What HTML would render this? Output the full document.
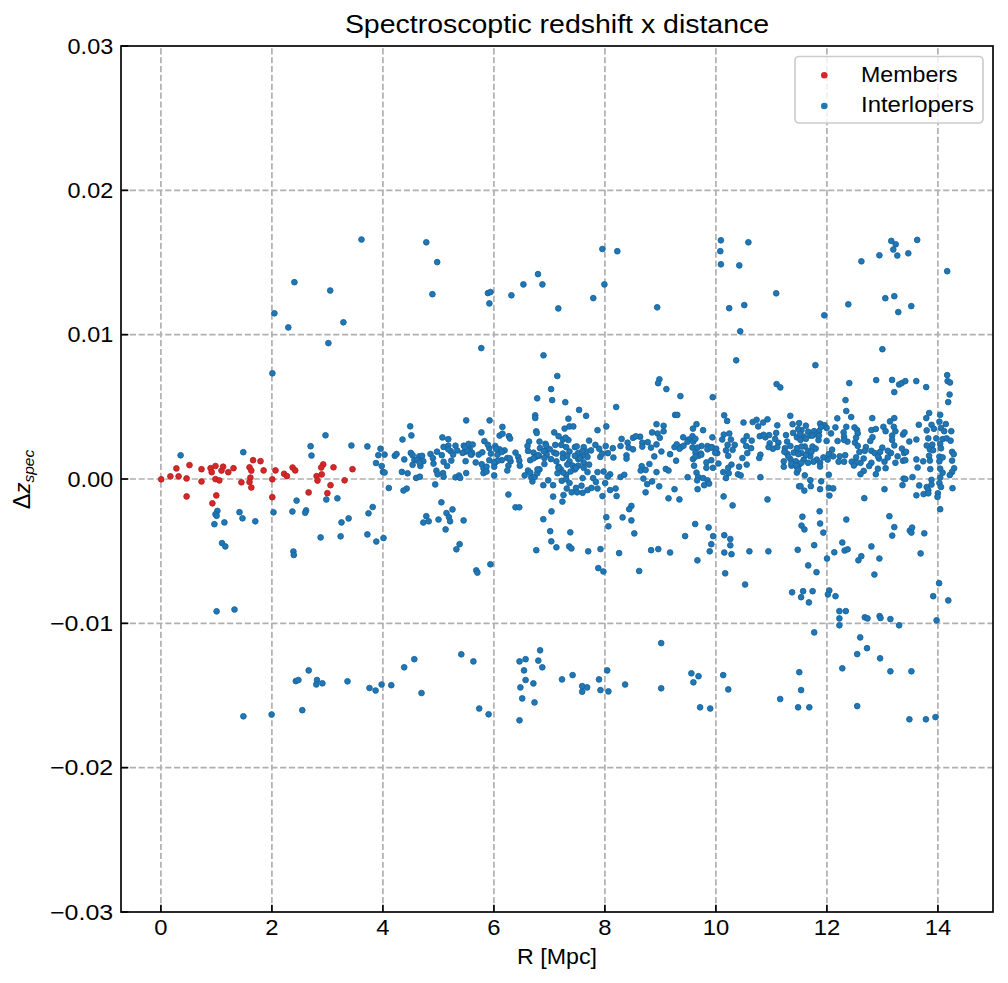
<!DOCTYPE html><html><head><meta charset="utf-8"><style>html,body{margin:0;padding:0;background:#fff;}svg{display:block;}text{font-family:"Liberation Sans",sans-serif;fill:#000;}</style></head><body><svg width="1008" height="983" viewBox="0 0 1008 983"><rect x="0" y="0" width="1008" height="983" fill="#fff"/><g stroke="#b0b0b0" stroke-width="1.7" stroke-dasharray="6.17 2.67"><line x1="160.90" y1="912" x2="160.90" y2="46"/><line x1="271.90" y1="912" x2="271.90" y2="46"/><line x1="382.90" y1="912" x2="382.90" y2="46"/><line x1="493.90" y1="912" x2="493.90" y2="46"/><line x1="604.90" y1="912" x2="604.90" y2="46"/><line x1="715.90" y1="912" x2="715.90" y2="46"/><line x1="826.90" y1="912" x2="826.90" y2="46"/><line x1="937.90" y1="912" x2="937.90" y2="46"/><line x1="121" y1="767.66" x2="993" y2="767.66"/><line x1="121" y1="623.33" x2="993" y2="623.33"/><line x1="121" y1="479.00" x2="993" y2="479.00"/><line x1="121" y1="334.67" x2="993" y2="334.67"/><line x1="121" y1="190.34" x2="993" y2="190.34"/></g><g fill="#1f77b4" stroke="#1a64a0" stroke-width="0.9"><circle cx="180.6" cy="455.3" r="2.85"/><circle cx="243.3" cy="452.2" r="2.85"/><circle cx="217.4" cy="510.9" r="2.85"/><circle cx="215.5" cy="514.2" r="2.85"/><circle cx="216.6" cy="515.8" r="2.85"/><circle cx="214.4" cy="524.2" r="2.85"/><circle cx="224.4" cy="522.4" r="2.85"/><circle cx="239.5" cy="512.2" r="2.85"/><circle cx="242.5" cy="518.3" r="2.85"/><circle cx="255.3" cy="521.3" r="2.85"/><circle cx="222.0" cy="543.1" r="2.85"/><circle cx="225.3" cy="546.4" r="2.85"/><circle cx="361.5" cy="239.5" r="2.85"/><circle cx="294.4" cy="282.2" r="2.85"/><circle cx="330.2" cy="290.5" r="2.85"/><circle cx="274.4" cy="313.3" r="2.85"/><circle cx="288.3" cy="327.4" r="2.85"/><circle cx="343.4" cy="322.3" r="2.85"/><circle cx="328.4" cy="343.1" r="2.85"/><circle cx="272.4" cy="373.3" r="2.85"/><circle cx="325.5" cy="435.3" r="2.85"/><circle cx="310.6" cy="446.2" r="2.85"/><circle cx="311.5" cy="455.5" r="2.85"/><circle cx="351.4" cy="445.5" r="2.85"/><circle cx="367.4" cy="446.4" r="2.85"/><circle cx="296.6" cy="500.6" r="2.85"/><circle cx="326.3" cy="499.5" r="2.85"/><circle cx="337.4" cy="498.3" r="2.85"/><circle cx="273.5" cy="512.3" r="2.85"/><circle cx="292.4" cy="511.5" r="2.85"/><circle cx="306.1" cy="510.4" r="2.85"/><circle cx="305.2" cy="512.7" r="2.85"/><circle cx="341.5" cy="522.4" r="2.85"/><circle cx="348.6" cy="518.4" r="2.85"/><circle cx="368.5" cy="513.3" r="2.85"/><circle cx="320.6" cy="537.4" r="2.85"/><circle cx="340.6" cy="536.3" r="2.85"/><circle cx="367.4" cy="534.4" r="2.85"/><circle cx="293.4" cy="551.5" r="2.85"/><circle cx="293.8" cy="555.0" r="2.85"/><circle cx="216.6" cy="611.3" r="2.85"/><circle cx="234.5" cy="609.5" r="2.85"/><circle cx="308.7" cy="670.4" r="2.85"/><circle cx="295.8" cy="681.1" r="2.85"/><circle cx="298.4" cy="680.0" r="2.85"/><circle cx="317.0" cy="680.0" r="2.85"/><circle cx="316.3" cy="684.4" r="2.85"/><circle cx="322.4" cy="683.3" r="2.85"/><circle cx="347.5" cy="681.3" r="2.85"/><circle cx="243.4" cy="716.3" r="2.85"/><circle cx="271.6" cy="714.5" r="2.85"/><circle cx="302.3" cy="710.2" r="2.85"/><circle cx="426.3" cy="242.3" r="2.85"/><circle cx="437.2" cy="262.1" r="2.85"/><circle cx="432.4" cy="294.2" r="2.85"/><circle cx="487.9" cy="293.1" r="2.85"/><circle cx="490.5" cy="292.0" r="2.85"/><circle cx="489.4" cy="303.4" r="2.85"/><circle cx="511.4" cy="295.3" r="2.85"/><circle cx="523.4" cy="284.4" r="2.85"/><circle cx="538.0" cy="274.1" r="2.85"/><circle cx="542.4" cy="284.4" r="2.85"/><circle cx="558.3" cy="308.4" r="2.85"/><circle cx="481.3" cy="348.1" r="2.85"/><circle cx="543.5" cy="355.3" r="2.85"/><circle cx="557.3" cy="376.0" r="2.85"/><circle cx="551.1" cy="389.1" r="2.85"/><circle cx="537.2" cy="398.3" r="2.85"/><circle cx="552.2" cy="400.1" r="2.85"/><circle cx="565.3" cy="402.2" r="2.85"/><circle cx="579.1" cy="409.9" r="2.85"/><circle cx="586.1" cy="415.8" r="2.85"/><circle cx="535.2" cy="415.3" r="2.85"/><circle cx="410.2" cy="426.3" r="2.85"/><circle cx="411.4" cy="435.4" r="2.85"/><circle cx="402.5" cy="439.5" r="2.85"/><circle cx="466.2" cy="420.4" r="2.85"/><circle cx="481.4" cy="432.4" r="2.85"/><circle cx="484.4" cy="441.2" r="2.85"/><circle cx="380.5" cy="448.7" r="2.85"/><circle cx="378.3" cy="455.2" r="2.85"/><circle cx="384.6" cy="454.6" r="2.85"/><circle cx="394.8" cy="455.8" r="2.85"/><circle cx="396.5" cy="454.0" r="2.85"/><circle cx="404.3" cy="459.4" r="2.85"/><circle cx="376.0" cy="463.0" r="2.85"/><circle cx="381.7" cy="466.0" r="2.85"/><circle cx="382.9" cy="471.9" r="2.85"/><circle cx="384.6" cy="472.5" r="2.85"/><circle cx="401.9" cy="471.9" r="2.85"/><circle cx="407.6" cy="473.3" r="2.85"/><circle cx="410.8" cy="452.9" r="2.85"/><circle cx="412.6" cy="455.2" r="2.85"/><circle cx="414.4" cy="460.0" r="2.85"/><circle cx="412.6" cy="464.8" r="2.85"/><circle cx="419.2" cy="456.4" r="2.85"/><circle cx="422.1" cy="455.8" r="2.85"/><circle cx="423.3" cy="461.2" r="2.85"/><circle cx="420.4" cy="466.0" r="2.85"/><circle cx="417.4" cy="460.0" r="2.85"/><circle cx="416.2" cy="477.9" r="2.85"/><circle cx="419.8" cy="476.7" r="2.85"/><circle cx="435.2" cy="484.4" r="2.85"/><circle cx="388.8" cy="488.0" r="2.85"/><circle cx="406.7" cy="488.6" r="2.85"/><circle cx="430.5" cy="454.0" r="2.85"/><circle cx="432.9" cy="458.2" r="2.85"/><circle cx="433.5" cy="463.6" r="2.85"/><circle cx="437.0" cy="451.7" r="2.85"/><circle cx="441.8" cy="455.2" r="2.85"/><circle cx="436.4" cy="470.7" r="2.85"/><circle cx="437.6" cy="474.3" r="2.85"/><circle cx="443.0" cy="473.1" r="2.85"/><circle cx="443.6" cy="476.7" r="2.85"/><circle cx="442.4" cy="437.4" r="2.85"/><circle cx="448.3" cy="439.2" r="2.85"/><circle cx="443.6" cy="446.9" r="2.85"/><circle cx="448.3" cy="445.7" r="2.85"/><circle cx="450.7" cy="451.1" r="2.85"/><circle cx="455.5" cy="445.7" r="2.85"/><circle cx="457.3" cy="450.5" r="2.85"/><circle cx="453.1" cy="454.6" r="2.85"/><circle cx="451.3" cy="460.6" r="2.85"/><circle cx="443.6" cy="461.8" r="2.85"/><circle cx="447.1" cy="466.0" r="2.85"/><circle cx="463.8" cy="445.7" r="2.85"/><circle cx="468.6" cy="443.9" r="2.85"/><circle cx="472.7" cy="444.5" r="2.85"/><circle cx="465.0" cy="451.7" r="2.85"/><circle cx="469.8" cy="449.3" r="2.85"/><circle cx="471.5" cy="454.6" r="2.85"/><circle cx="465.6" cy="461.2" r="2.85"/><circle cx="455.5" cy="477.3" r="2.85"/><circle cx="459.0" cy="475.5" r="2.85"/><circle cx="460.2" cy="477.9" r="2.85"/><circle cx="466.2" cy="473.1" r="2.85"/><circle cx="478.7" cy="454.6" r="2.85"/><circle cx="482.3" cy="452.3" r="2.85"/><circle cx="475.7" cy="462.4" r="2.85"/><circle cx="481.7" cy="464.2" r="2.85"/><circle cx="483.5" cy="468.3" r="2.85"/><circle cx="483.5" cy="473.1" r="2.85"/><circle cx="468.6" cy="450.5" r="2.85"/><circle cx="472.1" cy="452.9" r="2.85"/><circle cx="462.6" cy="452.9" r="2.85"/><circle cx="448.3" cy="449.3" r="2.85"/><circle cx="403.5" cy="490.5" r="2.85"/><circle cx="372.7" cy="507.0" r="2.85"/><circle cx="376.3" cy="541.5" r="2.85"/><circle cx="383.5" cy="538.0" r="2.85"/><circle cx="441.4" cy="502.3" r="2.85"/><circle cx="426.3" cy="516.2" r="2.85"/><circle cx="423.3" cy="522.5" r="2.85"/><circle cx="428.7" cy="521.3" r="2.85"/><circle cx="438.5" cy="519.5" r="2.85"/><circle cx="452.5" cy="509.4" r="2.85"/><circle cx="446.5" cy="513.0" r="2.85"/><circle cx="448.9" cy="517.1" r="2.85"/><circle cx="450.1" cy="521.3" r="2.85"/><circle cx="463.6" cy="520.4" r="2.85"/><circle cx="445.6" cy="529.4" r="2.85"/><circle cx="459.6" cy="544.2" r="2.85"/><circle cx="456.4" cy="549.3" r="2.85"/><circle cx="489.6" cy="420.4" r="2.85"/><circle cx="502.4" cy="426.9" r="2.85"/><circle cx="535.3" cy="418.0" r="2.85"/><circle cx="536.2" cy="431.3" r="2.85"/><circle cx="568.4" cy="418.7" r="2.85"/><circle cx="564.6" cy="428.6" r="2.85"/><circle cx="569.5" cy="426.4" r="2.85"/><circle cx="573.3" cy="426.4" r="2.85"/><circle cx="554.2" cy="432.4" r="2.85"/><circle cx="499.6" cy="435.6" r="2.85"/><circle cx="508.9" cy="436.2" r="2.85"/><circle cx="589.1" cy="440.6" r="2.85"/><circle cx="489.3" cy="448.2" r="2.85"/><circle cx="495.3" cy="446.0" r="2.85"/><circle cx="499.6" cy="449.3" r="2.85"/><circle cx="504.6" cy="450.4" r="2.85"/><circle cx="490.9" cy="453.6" r="2.85"/><circle cx="497.5" cy="454.7" r="2.85"/><circle cx="515.5" cy="452.6" r="2.85"/><circle cx="518.2" cy="456.9" r="2.85"/><circle cx="529.1" cy="441.6" r="2.85"/><circle cx="527.5" cy="446.0" r="2.85"/><circle cx="528.0" cy="450.9" r="2.85"/><circle cx="533.5" cy="452.6" r="2.85"/><circle cx="539.5" cy="441.6" r="2.85"/><circle cx="545.5" cy="443.8" r="2.85"/><circle cx="540.0" cy="448.2" r="2.85"/><circle cx="544.9" cy="450.9" r="2.85"/><circle cx="549.8" cy="449.3" r="2.85"/><circle cx="555.3" cy="444.9" r="2.85"/><circle cx="558.6" cy="436.2" r="2.85"/><circle cx="562.9" cy="439.5" r="2.85"/><circle cx="568.4" cy="440.0" r="2.85"/><circle cx="561.3" cy="444.9" r="2.85"/><circle cx="566.2" cy="447.1" r="2.85"/><circle cx="574.9" cy="447.1" r="2.85"/><circle cx="583.7" cy="447.1" r="2.85"/><circle cx="554.2" cy="452.6" r="2.85"/><circle cx="562.9" cy="453.6" r="2.85"/><circle cx="569.5" cy="451.5" r="2.85"/><circle cx="578.2" cy="453.1" r="2.85"/><circle cx="586.4" cy="451.5" r="2.85"/><circle cx="538.9" cy="455.8" r="2.85"/><circle cx="546.6" cy="454.7" r="2.85"/><circle cx="489.3" cy="460.2" r="2.85"/><circle cx="495.3" cy="462.4" r="2.85"/><circle cx="501.8" cy="460.2" r="2.85"/><circle cx="507.3" cy="458.0" r="2.85"/><circle cx="510.6" cy="461.3" r="2.85"/><circle cx="508.4" cy="465.7" r="2.85"/><circle cx="519.3" cy="460.7" r="2.85"/><circle cx="519.8" cy="465.7" r="2.85"/><circle cx="530.2" cy="460.2" r="2.85"/><circle cx="535.7" cy="456.9" r="2.85"/><circle cx="544.4" cy="464.0" r="2.85"/><circle cx="544.4" cy="458.0" r="2.85"/><circle cx="558.6" cy="466.7" r="2.85"/><circle cx="562.9" cy="458.0" r="2.85"/><circle cx="569.5" cy="461.3" r="2.85"/><circle cx="572.8" cy="465.7" r="2.85"/><circle cx="578.2" cy="459.1" r="2.85"/><circle cx="583.7" cy="462.4" r="2.85"/><circle cx="587.5" cy="456.9" r="2.85"/><circle cx="589.1" cy="464.6" r="2.85"/><circle cx="494.2" cy="466.7" r="2.85"/><circle cx="486.5" cy="466.7" r="2.85"/><circle cx="556.4" cy="453.6" r="2.85"/><circle cx="567.3" cy="455.8" r="2.85"/><circle cx="574.9" cy="455.8" r="2.85"/><circle cx="582.6" cy="455.8" r="2.85"/><circle cx="578.2" cy="465.7" r="2.85"/><circle cx="567.3" cy="464.6" r="2.85"/><circle cx="550.9" cy="459.1" r="2.85"/><circle cx="556.4" cy="461.3" r="2.85"/><circle cx="583.7" cy="467.8" r="2.85"/><circle cx="574.9" cy="467.8" r="2.85"/><circle cx="486.5" cy="471.5" r="2.85"/><circle cx="494.2" cy="475.4" r="2.85"/><circle cx="507.3" cy="470.5" r="2.85"/><circle cx="524.7" cy="475.4" r="2.85"/><circle cx="528.0" cy="470.5" r="2.85"/><circle cx="532.4" cy="481.4" r="2.85"/><circle cx="531.3" cy="477.0" r="2.85"/><circle cx="534.6" cy="477.0" r="2.85"/><circle cx="537.3" cy="473.2" r="2.85"/><circle cx="539.5" cy="469.4" r="2.85"/><circle cx="543.3" cy="485.2" r="2.85"/><circle cx="548.2" cy="480.3" r="2.85"/><circle cx="553.1" cy="485.2" r="2.85"/><circle cx="557.5" cy="473.2" r="2.85"/><circle cx="560.8" cy="469.4" r="2.85"/><circle cx="566.2" cy="474.8" r="2.85"/><circle cx="570.6" cy="471.5" r="2.85"/><circle cx="574.9" cy="469.4" r="2.85"/><circle cx="561.8" cy="480.8" r="2.85"/><circle cx="566.2" cy="479.2" r="2.85"/><circle cx="569.5" cy="483.0" r="2.85"/><circle cx="582.6" cy="478.1" r="2.85"/><circle cx="587.5" cy="472.1" r="2.85"/><circle cx="566.8" cy="488.5" r="2.85"/><circle cx="571.7" cy="492.3" r="2.85"/><circle cx="576.0" cy="487.9" r="2.85"/><circle cx="577.1" cy="492.3" r="2.85"/><circle cx="581.5" cy="485.7" r="2.85"/><circle cx="582.6" cy="492.8" r="2.85"/><circle cx="587.5" cy="490.1" r="2.85"/><circle cx="563.5" cy="495.0" r="2.85"/><circle cx="562.4" cy="501.6" r="2.85"/><circle cx="553.1" cy="496.6" r="2.85"/><circle cx="508.4" cy="494.5" r="2.85"/><circle cx="515.5" cy="507.3" r="2.85"/><circle cx="519.3" cy="507.3" r="2.85"/><circle cx="551.5" cy="511.4" r="2.85"/><circle cx="543.3" cy="519.2" r="2.85"/><circle cx="476.3" cy="570.4" r="2.85"/><circle cx="477.4" cy="572.6" r="2.85"/><circle cx="490.4" cy="564.3" r="2.85"/><circle cx="550.2" cy="531.2" r="2.85"/><circle cx="570.3" cy="532.3" r="2.85"/><circle cx="551.3" cy="541.3" r="2.85"/><circle cx="556.4" cy="547.3" r="2.85"/><circle cx="569.2" cy="546.4" r="2.85"/><circle cx="571.4" cy="548.4" r="2.85"/><circle cx="536.3" cy="550.2" r="2.85"/><circle cx="588.2" cy="551.3" r="2.85"/><circle cx="369.5" cy="688.0" r="2.85"/><circle cx="375.6" cy="690.5" r="2.85"/><circle cx="381.6" cy="684.5" r="2.85"/><circle cx="391.3" cy="685.2" r="2.85"/><circle cx="404.2" cy="667.3" r="2.85"/><circle cx="414.3" cy="659.2" r="2.85"/><circle cx="421.5" cy="693.0" r="2.85"/><circle cx="461.3" cy="654.3" r="2.85"/><circle cx="473.4" cy="661.4" r="2.85"/><circle cx="479.2" cy="708.5" r="2.85"/><circle cx="488.6" cy="714.3" r="2.85"/><circle cx="519.5" cy="661.4" r="2.85"/><circle cx="525.6" cy="659.2" r="2.85"/><circle cx="540.1" cy="650.3" r="2.85"/><circle cx="538.3" cy="660.6" r="2.85"/><circle cx="542.3" cy="667.3" r="2.85"/><circle cx="524.0" cy="670.4" r="2.85"/><circle cx="525.6" cy="680.0" r="2.85"/><circle cx="520.4" cy="687.4" r="2.85"/><circle cx="533.4" cy="683.4" r="2.85"/><circle cx="522.2" cy="698.4" r="2.85"/><circle cx="534.5" cy="702.4" r="2.85"/><circle cx="519.5" cy="720.3" r="2.85"/><circle cx="562.0" cy="679.4" r="2.85"/><circle cx="572.6" cy="675.1" r="2.85"/><circle cx="582.2" cy="686.1" r="2.85"/><circle cx="587.1" cy="687.4" r="2.85"/><circle cx="582.2" cy="691.7" r="2.85"/><circle cx="602.4" cy="249.0" r="2.85"/><circle cx="617.3" cy="251.2" r="2.85"/><circle cx="604.4" cy="284.4" r="2.85"/><circle cx="593.3" cy="298.1" r="2.85"/><circle cx="657.2" cy="307.3" r="2.85"/><circle cx="720.9" cy="240.3" r="2.85"/><circle cx="748.4" cy="242.3" r="2.85"/><circle cx="720.3" cy="251.2" r="2.85"/><circle cx="720.9" cy="264.3" r="2.85"/><circle cx="739.3" cy="265.4" r="2.85"/><circle cx="776.2" cy="293.3" r="2.85"/><circle cx="744.3" cy="305.1" r="2.85"/><circle cx="729.2" cy="308.2" r="2.85"/><circle cx="740.2" cy="331.3" r="2.85"/><circle cx="736.2" cy="360.3" r="2.85"/><circle cx="659.4" cy="379.3" r="2.85"/><circle cx="658.1" cy="383.2" r="2.85"/><circle cx="666.4" cy="389.1" r="2.85"/><circle cx="680.4" cy="396.1" r="2.85"/><circle cx="616.2" cy="407.0" r="2.85"/><circle cx="712.7" cy="397.2" r="2.85"/><circle cx="776.6" cy="384.1" r="2.85"/><circle cx="780.3" cy="387.4" r="2.85"/><circle cx="675.1" cy="414.9" r="2.85"/><circle cx="677.3" cy="414.9" r="2.85"/><circle cx="724.2" cy="415.3" r="2.85"/><circle cx="790.3" cy="415.8" r="2.85"/><circle cx="597.5" cy="430.2" r="2.85"/><circle cx="606.3" cy="426.4" r="2.85"/><circle cx="595.4" cy="444.9" r="2.85"/><circle cx="591.0" cy="450.4" r="2.85"/><circle cx="599.2" cy="448.7" r="2.85"/><circle cx="600.3" cy="456.9" r="2.85"/><circle cx="605.7" cy="446.0" r="2.85"/><circle cx="607.9" cy="453.1" r="2.85"/><circle cx="612.8" cy="448.2" r="2.85"/><circle cx="613.4" cy="457.5" r="2.85"/><circle cx="621.6" cy="438.9" r="2.85"/><circle cx="620.5" cy="446.0" r="2.85"/><circle cx="627.6" cy="442.7" r="2.85"/><circle cx="628.6" cy="447.6" r="2.85"/><circle cx="633.0" cy="449.3" r="2.85"/><circle cx="626.5" cy="455.3" r="2.85"/><circle cx="626.5" cy="458.6" r="2.85"/><circle cx="633.0" cy="437.8" r="2.85"/><circle cx="640.1" cy="436.7" r="2.85"/><circle cx="642.3" cy="442.7" r="2.85"/><circle cx="642.3" cy="446.6" r="2.85"/><circle cx="647.7" cy="442.2" r="2.85"/><circle cx="651.0" cy="447.6" r="2.85"/><circle cx="656.5" cy="444.4" r="2.85"/><circle cx="656.5" cy="424.2" r="2.85"/><circle cx="663.6" cy="425.8" r="2.85"/><circle cx="652.1" cy="432.4" r="2.85"/><circle cx="657.6" cy="433.5" r="2.85"/><circle cx="663.6" cy="431.3" r="2.85"/><circle cx="659.8" cy="437.8" r="2.85"/><circle cx="661.4" cy="451.5" r="2.85"/><circle cx="654.3" cy="456.4" r="2.85"/><circle cx="649.4" cy="464.0" r="2.85"/><circle cx="641.7" cy="466.2" r="2.85"/><circle cx="665.8" cy="468.9" r="2.85"/><circle cx="670.1" cy="454.2" r="2.85"/><circle cx="676.1" cy="460.7" r="2.85"/><circle cx="674.5" cy="447.1" r="2.85"/><circle cx="676.7" cy="444.4" r="2.85"/><circle cx="681.0" cy="447.1" r="2.85"/><circle cx="683.2" cy="437.3" r="2.85"/><circle cx="688.7" cy="439.5" r="2.85"/><circle cx="692.5" cy="436.2" r="2.85"/><circle cx="693.0" cy="428.6" r="2.85"/><circle cx="692.5" cy="447.6" r="2.85"/><circle cx="693.0" cy="459.1" r="2.85"/><circle cx="694.1" cy="465.7" r="2.85"/><circle cx="597.5" cy="472.1" r="2.85"/><circle cx="603.6" cy="471.5" r="2.85"/><circle cx="610.1" cy="474.3" r="2.85"/><circle cx="607.9" cy="476.5" r="2.85"/><circle cx="593.2" cy="478.1" r="2.85"/><circle cx="595.9" cy="481.9" r="2.85"/><circle cx="605.2" cy="483.0" r="2.85"/><circle cx="591.5" cy="487.9" r="2.85"/><circle cx="597.5" cy="488.5" r="2.85"/><circle cx="610.1" cy="490.1" r="2.85"/><circle cx="615.6" cy="488.5" r="2.85"/><circle cx="602.5" cy="496.1" r="2.85"/><circle cx="616.6" cy="496.1" r="2.85"/><circle cx="620.5" cy="477.0" r="2.85"/><circle cx="624.3" cy="474.8" r="2.85"/><circle cx="640.7" cy="470.5" r="2.85"/><circle cx="645.6" cy="469.9" r="2.85"/><circle cx="656.5" cy="472.1" r="2.85"/><circle cx="668.5" cy="470.5" r="2.85"/><circle cx="643.4" cy="478.6" r="2.85"/><circle cx="647.2" cy="484.1" r="2.85"/><circle cx="652.1" cy="481.4" r="2.85"/><circle cx="645.6" cy="492.3" r="2.85"/><circle cx="659.2" cy="486.3" r="2.85"/><circle cx="674.5" cy="489.2" r="2.85"/><circle cx="668.5" cy="498.3" r="2.85"/><circle cx="679.4" cy="499.4" r="2.85"/><circle cx="687.6" cy="477.2" r="2.85"/><circle cx="631.4" cy="505.9" r="2.85"/><circle cx="629.2" cy="509.2" r="2.85"/><circle cx="606.3" cy="517.2" r="2.85"/><circle cx="622.6" cy="517.4" r="2.85"/><circle cx="631.4" cy="520.4" r="2.85"/><circle cx="696.5" cy="424.2" r="2.85"/><circle cx="693.3" cy="441.6" r="2.85"/><circle cx="695.5" cy="452.6" r="2.85"/><circle cx="700.9" cy="453.6" r="2.85"/><circle cx="703.1" cy="430.2" r="2.85"/><circle cx="712.4" cy="437.3" r="2.85"/><circle cx="701.5" cy="446.0" r="2.85"/><circle cx="707.5" cy="446.0" r="2.85"/><circle cx="711.8" cy="447.1" r="2.85"/><circle cx="707.5" cy="449.3" r="2.85"/><circle cx="716.2" cy="448.7" r="2.85"/><circle cx="717.3" cy="453.1" r="2.85"/><circle cx="698.7" cy="455.8" r="2.85"/><circle cx="706.4" cy="462.4" r="2.85"/><circle cx="711.3" cy="460.2" r="2.85"/><circle cx="718.4" cy="463.5" r="2.85"/><circle cx="706.4" cy="467.8" r="2.85"/><circle cx="712.9" cy="467.8" r="2.85"/><circle cx="727.1" cy="420.9" r="2.85"/><circle cx="723.8" cy="434.6" r="2.85"/><circle cx="729.3" cy="433.5" r="2.85"/><circle cx="722.2" cy="439.5" r="2.85"/><circle cx="730.9" cy="439.5" r="2.85"/><circle cx="727.6" cy="444.9" r="2.85"/><circle cx="734.7" cy="444.9" r="2.85"/><circle cx="732.6" cy="449.8" r="2.85"/><circle cx="726.0" cy="450.4" r="2.85"/><circle cx="728.2" cy="455.8" r="2.85"/><circle cx="731.5" cy="464.6" r="2.85"/><circle cx="728.2" cy="467.8" r="2.85"/><circle cx="739.1" cy="466.7" r="2.85"/><circle cx="742.4" cy="458.0" r="2.85"/><circle cx="746.7" cy="464.6" r="2.85"/><circle cx="747.3" cy="453.1" r="2.85"/><circle cx="743.5" cy="422.5" r="2.85"/><circle cx="746.7" cy="436.2" r="2.85"/><circle cx="743.5" cy="440.6" r="2.85"/><circle cx="751.7" cy="440.6" r="2.85"/><circle cx="746.2" cy="446.0" r="2.85"/><circle cx="751.1" cy="448.2" r="2.85"/><circle cx="752.7" cy="422.0" r="2.85"/><circle cx="756.6" cy="419.8" r="2.85"/><circle cx="758.2" cy="426.4" r="2.85"/><circle cx="763.1" cy="422.5" r="2.85"/><circle cx="767.5" cy="419.3" r="2.85"/><circle cx="759.8" cy="436.2" r="2.85"/><circle cx="765.3" cy="437.3" r="2.85"/><circle cx="769.1" cy="435.1" r="2.85"/><circle cx="760.4" cy="454.7" r="2.85"/><circle cx="759.3" cy="458.0" r="2.85"/><circle cx="777.3" cy="425.3" r="2.85"/><circle cx="776.2" cy="432.9" r="2.85"/><circle cx="775.1" cy="438.9" r="2.85"/><circle cx="769.7" cy="443.3" r="2.85"/><circle cx="778.4" cy="442.7" r="2.85"/><circle cx="768.6" cy="447.1" r="2.85"/><circle cx="772.9" cy="448.7" r="2.85"/><circle cx="777.3" cy="447.1" r="2.85"/><circle cx="792.6" cy="424.2" r="2.85"/><circle cx="799.1" cy="423.1" r="2.85"/><circle cx="786.0" cy="435.1" r="2.85"/><circle cx="793.1" cy="432.9" r="2.85"/><circle cx="796.9" cy="437.3" r="2.85"/><circle cx="787.1" cy="441.6" r="2.85"/><circle cx="784.9" cy="448.2" r="2.85"/><circle cx="790.4" cy="446.0" r="2.85"/><circle cx="796.9" cy="448.2" r="2.85"/><circle cx="787.1" cy="453.6" r="2.85"/><circle cx="793.7" cy="452.6" r="2.85"/><circle cx="799.1" cy="453.6" r="2.85"/><circle cx="783.8" cy="461.3" r="2.85"/><circle cx="790.4" cy="459.1" r="2.85"/><circle cx="795.8" cy="461.3" r="2.85"/><circle cx="783.8" cy="466.7" r="2.85"/><circle cx="791.5" cy="465.7" r="2.85"/><circle cx="799.1" cy="464.6" r="2.85"/><circle cx="696.5" cy="472.6" r="2.85"/><circle cx="698.2" cy="477.0" r="2.85"/><circle cx="703.1" cy="478.1" r="2.85"/><circle cx="697.1" cy="480.3" r="2.85"/><circle cx="707.5" cy="480.3" r="2.85"/><circle cx="704.2" cy="485.2" r="2.85"/><circle cx="709.1" cy="483.6" r="2.85"/><circle cx="697.6" cy="489.2" r="2.85"/><circle cx="723.3" cy="472.1" r="2.85"/><circle cx="728.7" cy="473.2" r="2.85"/><circle cx="726.0" cy="478.1" r="2.85"/><circle cx="738.0" cy="474.3" r="2.85"/><circle cx="740.7" cy="475.4" r="2.85"/><circle cx="760.4" cy="477.2" r="2.85"/><circle cx="796.9" cy="472.6" r="2.85"/><circle cx="799.1" cy="486.3" r="2.85"/><circle cx="723.6" cy="496.4" r="2.85"/><circle cx="732.6" cy="505.4" r="2.85"/><circle cx="767.5" cy="499.4" r="2.85"/><circle cx="608.4" cy="526.3" r="2.85"/><circle cx="634.3" cy="533.4" r="2.85"/><circle cx="600.5" cy="549.1" r="2.85"/><circle cx="619.1" cy="553.1" r="2.85"/><circle cx="598.3" cy="568.1" r="2.85"/><circle cx="603.4" cy="571.5" r="2.85"/><circle cx="639.2" cy="571.0" r="2.85"/><circle cx="651.1" cy="550.2" r="2.85"/><circle cx="658.3" cy="549.1" r="2.85"/><circle cx="670.1" cy="552.5" r="2.85"/><circle cx="685.1" cy="536.1" r="2.85"/><circle cx="695.2" cy="524.0" r="2.85"/><circle cx="708.6" cy="527.4" r="2.85"/><circle cx="713.1" cy="536.1" r="2.85"/><circle cx="711.3" cy="544.2" r="2.85"/><circle cx="709.7" cy="551.3" r="2.85"/><circle cx="697.4" cy="560.3" r="2.85"/><circle cx="724.3" cy="535.2" r="2.85"/><circle cx="730.3" cy="539.0" r="2.85"/><circle cx="730.3" cy="545.3" r="2.85"/><circle cx="724.3" cy="552.5" r="2.85"/><circle cx="731.5" cy="554.2" r="2.85"/><circle cx="749.4" cy="551.3" r="2.85"/><circle cx="768.4" cy="551.3" r="2.85"/><circle cx="725.2" cy="573.3" r="2.85"/><circle cx="745.1" cy="584.5" r="2.85"/><circle cx="801.5" cy="525.6" r="2.85"/><circle cx="804.4" cy="529.4" r="2.85"/><circle cx="797.7" cy="549.8" r="2.85"/><circle cx="808.2" cy="565.4" r="2.85"/><circle cx="792.1" cy="592.3" r="2.85"/><circle cx="803.1" cy="591.2" r="2.85"/><circle cx="801.1" cy="597.2" r="2.85"/><circle cx="808.9" cy="602.4" r="2.85"/><circle cx="661.2" cy="643.1" r="2.85"/><circle cx="607.2" cy="670.4" r="2.85"/><circle cx="599.0" cy="679.4" r="2.85"/><circle cx="600.5" cy="690.1" r="2.85"/><circle cx="608.4" cy="691.4" r="2.85"/><circle cx="625.1" cy="684.5" r="2.85"/><circle cx="661.2" cy="688.3" r="2.85"/><circle cx="691.4" cy="673.3" r="2.85"/><circle cx="698.5" cy="676.2" r="2.85"/><circle cx="693.4" cy="682.3" r="2.85"/><circle cx="700.1" cy="707.3" r="2.85"/><circle cx="710.2" cy="708.5" r="2.85"/><circle cx="723.2" cy="675.1" r="2.85"/><circle cx="728.3" cy="689.4" r="2.85"/><circle cx="799.3" cy="672.2" r="2.85"/><circle cx="801.1" cy="690.1" r="2.85"/><circle cx="780.2" cy="699.0" r="2.85"/><circle cx="798.1" cy="707.3" r="2.85"/><circle cx="809.3" cy="707.3" r="2.85"/><circle cx="891.3" cy="240.9" r="2.85"/><circle cx="895.7" cy="244.3" r="2.85"/><circle cx="893.3" cy="249.5" r="2.85"/><circle cx="897.3" cy="255.5" r="2.85"/><circle cx="879.4" cy="255.3" r="2.85"/><circle cx="861.4" cy="261.3" r="2.85"/><circle cx="908.3" cy="253.3" r="2.85"/><circle cx="917.2" cy="239.9" r="2.85"/><circle cx="947.2" cy="271.2" r="2.85"/><circle cx="848.3" cy="304.3" r="2.85"/><circle cx="824.3" cy="315.3" r="2.85"/><circle cx="885.3" cy="298.2" r="2.85"/><circle cx="894.3" cy="296.2" r="2.85"/><circle cx="898.3" cy="312.1" r="2.85"/><circle cx="911.3" cy="306.1" r="2.85"/><circle cx="882.4" cy="349.2" r="2.85"/><circle cx="815.4" cy="365.2" r="2.85"/><circle cx="849.3" cy="383.1" r="2.85"/><circle cx="876.2" cy="380.1" r="2.85"/><circle cx="892.1" cy="379.9" r="2.85"/><circle cx="899.1" cy="384.5" r="2.85"/><circle cx="901.7" cy="383.1" r="2.85"/><circle cx="905.3" cy="381.1" r="2.85"/><circle cx="916.3" cy="381.1" r="2.85"/><circle cx="926.2" cy="387.1" r="2.85"/><circle cx="894.3" cy="392.1" r="2.85"/><circle cx="947.2" cy="375.1" r="2.85"/><circle cx="947.6" cy="381.1" r="2.85"/><circle cx="950.0" cy="382.5" r="2.85"/><circle cx="949.6" cy="394.5" r="2.85"/><circle cx="948.2" cy="402.1" r="2.85"/><circle cx="845.5" cy="400.1" r="2.85"/><circle cx="846.3" cy="411.0" r="2.85"/><circle cx="929.2" cy="413.0" r="2.85"/><circle cx="940.2" cy="414.8" r="2.85"/><circle cx="851.2" cy="417.0" r="2.85"/><circle cx="837.3" cy="418.3" r="2.85"/><circle cx="872.3" cy="418.1" r="2.85"/><circle cx="894.3" cy="418.1" r="2.85"/><circle cx="890.0" cy="421.4" r="2.85"/><circle cx="805.9" cy="425.7" r="2.85"/><circle cx="820.1" cy="423.6" r="2.85"/><circle cx="824.5" cy="425.2" r="2.85"/><circle cx="826.6" cy="427.9" r="2.85"/><circle cx="801.5" cy="430.1" r="2.85"/><circle cx="808.1" cy="431.7" r="2.85"/><circle cx="814.1" cy="431.2" r="2.85"/><circle cx="819.0" cy="431.2" r="2.85"/><circle cx="803.7" cy="436.6" r="2.85"/><circle cx="810.3" cy="435.6" r="2.85"/><circle cx="816.8" cy="434.5" r="2.85"/><circle cx="800.5" cy="439.9" r="2.85"/><circle cx="805.9" cy="438.8" r="2.85"/><circle cx="835.4" cy="427.4" r="2.85"/><circle cx="831.0" cy="433.4" r="2.85"/><circle cx="818.5" cy="440.1" r="2.85"/><circle cx="826.6" cy="441.0" r="2.85"/><circle cx="837.6" cy="441.0" r="2.85"/><circle cx="846.3" cy="426.8" r="2.85"/><circle cx="843.6" cy="432.3" r="2.85"/><circle cx="844.1" cy="436.6" r="2.85"/><circle cx="847.4" cy="441.6" r="2.85"/><circle cx="854.5" cy="427.4" r="2.85"/><circle cx="857.2" cy="430.1" r="2.85"/><circle cx="857.7" cy="433.4" r="2.85"/><circle cx="855.0" cy="442.6" r="2.85"/><circle cx="857.7" cy="445.9" r="2.85"/><circle cx="859.4" cy="451.9" r="2.85"/><circle cx="856.1" cy="457.4" r="2.85"/><circle cx="871.4" cy="430.1" r="2.85"/><circle cx="875.8" cy="429.0" r="2.85"/><circle cx="872.5" cy="437.2" r="2.85"/><circle cx="870.3" cy="441.0" r="2.85"/><circle cx="865.9" cy="447.0" r="2.85"/><circle cx="871.4" cy="450.8" r="2.85"/><circle cx="874.7" cy="453.0" r="2.85"/><circle cx="863.7" cy="458.5" r="2.85"/><circle cx="883.4" cy="426.8" r="2.85"/><circle cx="885.6" cy="431.2" r="2.85"/><circle cx="893.8" cy="426.8" r="2.85"/><circle cx="895.4" cy="431.2" r="2.85"/><circle cx="892.1" cy="435.6" r="2.85"/><circle cx="892.1" cy="439.9" r="2.85"/><circle cx="894.3" cy="445.4" r="2.85"/><circle cx="903.0" cy="434.5" r="2.85"/><circle cx="882.3" cy="447.6" r="2.85"/><circle cx="880.1" cy="451.9" r="2.85"/><circle cx="891.0" cy="453.0" r="2.85"/><circle cx="887.8" cy="457.4" r="2.85"/><circle cx="879.0" cy="458.5" r="2.85"/><circle cx="904.1" cy="453.0" r="2.85"/><circle cx="903.0" cy="460.7" r="2.85"/><circle cx="804.8" cy="446.5" r="2.85"/><circle cx="812.5" cy="446.5" r="2.85"/><circle cx="815.7" cy="448.6" r="2.85"/><circle cx="801.5" cy="453.0" r="2.85"/><circle cx="808.1" cy="450.8" r="2.85"/><circle cx="810.3" cy="456.3" r="2.85"/><circle cx="803.7" cy="459.6" r="2.85"/><circle cx="816.8" cy="459.6" r="2.85"/><circle cx="832.1" cy="449.7" r="2.85"/><circle cx="828.8" cy="454.1" r="2.85"/><circle cx="827.7" cy="459.6" r="2.85"/><circle cx="820.1" cy="462.8" r="2.85"/><circle cx="839.7" cy="456.3" r="2.85"/><circle cx="845.2" cy="455.2" r="2.85"/><circle cx="838.6" cy="461.7" r="2.85"/><circle cx="851.7" cy="461.7" r="2.85"/><circle cx="808.1" cy="462.8" r="2.85"/><circle cx="860.5" cy="462.8" r="2.85"/><circle cx="871.4" cy="462.8" r="2.85"/><circle cx="884.5" cy="461.7" r="2.85"/><circle cx="895.4" cy="462.8" r="2.85"/><circle cx="800.0" cy="434.0" r="2.85"/><circle cx="812.5" cy="435.6" r="2.85"/><circle cx="821.2" cy="426.8" r="2.85"/><circle cx="801.5" cy="446.5" r="2.85"/><circle cx="798.3" cy="454.1" r="2.85"/><circle cx="811.4" cy="451.9" r="2.85"/><circle cx="805.9" cy="455.2" r="2.85"/><circle cx="813.6" cy="461.7" r="2.85"/><circle cx="801.5" cy="462.8" r="2.85"/><circle cx="823.4" cy="457.4" r="2.85"/><circle cx="833.2" cy="456.3" r="2.85"/><circle cx="844.1" cy="461.7" r="2.85"/><circle cx="856.1" cy="462.8" r="2.85"/><circle cx="864.8" cy="450.8" r="2.85"/><circle cx="877.9" cy="456.3" r="2.85"/><circle cx="887.8" cy="450.8" r="2.85"/><circle cx="897.6" cy="456.3" r="2.85"/><circle cx="901.9" cy="448.6" r="2.85"/><circle cx="856.1" cy="437.7" r="2.85"/><circle cx="844.1" cy="439.9" r="2.85"/><circle cx="798.3" cy="429.0" r="2.85"/><circle cx="819.0" cy="435.6" r="2.85"/><circle cx="797.2" cy="467.6" r="2.85"/><circle cx="820.1" cy="466.5" r="2.85"/><circle cx="804.8" cy="475.3" r="2.85"/><circle cx="810.3" cy="480.2" r="2.85"/><circle cx="810.8" cy="486.2" r="2.85"/><circle cx="800.5" cy="486.2" r="2.85"/><circle cx="804.3" cy="490.6" r="2.85"/><circle cx="821.2" cy="481.3" r="2.85"/><circle cx="820.1" cy="489.2" r="2.85"/><circle cx="828.8" cy="474.7" r="2.85"/><circle cx="828.8" cy="487.8" r="2.85"/><circle cx="833.2" cy="488.4" r="2.85"/><circle cx="829.4" cy="495.5" r="2.85"/><circle cx="853.9" cy="465.5" r="2.85"/><circle cx="869.2" cy="466.0" r="2.85"/><circle cx="863.7" cy="470.9" r="2.85"/><circle cx="860.5" cy="474.2" r="2.85"/><circle cx="877.9" cy="468.7" r="2.85"/><circle cx="875.8" cy="474.2" r="2.85"/><circle cx="885.6" cy="468.2" r="2.85"/><circle cx="903.6" cy="478.6" r="2.85"/><circle cx="902.5" cy="485.1" r="2.85"/><circle cx="884.5" cy="489.2" r="2.85"/><circle cx="864.3" cy="498.2" r="2.85"/><circle cx="819.6" cy="511.3" r="2.85"/><circle cx="802.4" cy="516.7" r="2.85"/><circle cx="846.3" cy="519.5" r="2.85"/><circle cx="889.4" cy="516.2" r="2.85"/><circle cx="820.1" cy="523.5" r="2.85"/><circle cx="823.3" cy="532.6" r="2.85"/><circle cx="814.2" cy="545.2" r="2.85"/><circle cx="827.0" cy="558.5" r="2.85"/><circle cx="834.3" cy="552.3" r="2.85"/><circle cx="842.3" cy="542.5" r="2.85"/><circle cx="844.6" cy="550.5" r="2.85"/><circle cx="847.6" cy="549.3" r="2.85"/><circle cx="816.5" cy="572.2" r="2.85"/><circle cx="858.4" cy="560.3" r="2.85"/><circle cx="861.3" cy="556.2" r="2.85"/><circle cx="871.4" cy="546.4" r="2.85"/><circle cx="879.4" cy="558.5" r="2.85"/><circle cx="874.4" cy="574.5" r="2.85"/><circle cx="894.3" cy="527.1" r="2.85"/><circle cx="892.2" cy="535.6" r="2.85"/><circle cx="909.8" cy="530.6" r="2.85"/><circle cx="912.1" cy="527.6" r="2.85"/><circle cx="911.4" cy="532.6" r="2.85"/><circle cx="924.3" cy="533.3" r="2.85"/><circle cx="920.6" cy="553.4" r="2.85"/><circle cx="812.6" cy="591.2" r="2.85"/><circle cx="829.3" cy="590.5" r="2.85"/><circle cx="827.9" cy="594.4" r="2.85"/><circle cx="835.5" cy="596.2" r="2.85"/><circle cx="839.4" cy="611.1" r="2.85"/><circle cx="845.8" cy="611.1" r="2.85"/><circle cx="839.4" cy="618.4" r="2.85"/><circle cx="839.4" cy="625.3" r="2.85"/><circle cx="864.8" cy="617.3" r="2.85"/><circle cx="867.5" cy="618.4" r="2.85"/><circle cx="879.6" cy="616.1" r="2.85"/><circle cx="880.5" cy="618.0" r="2.85"/><circle cx="890.4" cy="619.1" r="2.85"/><circle cx="899.1" cy="625.3" r="2.85"/><circle cx="939.1" cy="583.2" r="2.85"/><circle cx="933.2" cy="596.2" r="2.85"/><circle cx="948.3" cy="600.4" r="2.85"/><circle cx="936.6" cy="620.3" r="2.85"/><circle cx="814.2" cy="632.4" r="2.85"/><circle cx="860.2" cy="637.4" r="2.85"/><circle cx="867.0" cy="648.2" r="2.85"/><circle cx="857.2" cy="654.1" r="2.85"/><circle cx="880.1" cy="658.3" r="2.85"/><circle cx="842.3" cy="668.3" r="2.85"/><circle cx="890.4" cy="671.3" r="2.85"/><circle cx="911.4" cy="671.3" r="2.85"/><circle cx="857.2" cy="706.1" r="2.85"/><circle cx="909.4" cy="719.3" r="2.85"/><circle cx="925.9" cy="719.3" r="2.85"/><circle cx="935.5" cy="717.1" r="2.85"/><circle cx="926.3" cy="418.1" r="2.85"/><circle cx="939.4" cy="421.7" r="2.85"/><circle cx="945.8" cy="424.0" r="2.85"/><circle cx="918.8" cy="424.8" r="2.85"/><circle cx="931.5" cy="424.8" r="2.85"/><circle cx="933.9" cy="428.8" r="2.85"/><circle cx="926.7" cy="430.4" r="2.85"/><circle cx="941.0" cy="428.0" r="2.85"/><circle cx="944.2" cy="431.2" r="2.85"/><circle cx="951.3" cy="431.2" r="2.85"/><circle cx="904.5" cy="432.4" r="2.85"/><circle cx="928.3" cy="438.3" r="2.85"/><circle cx="936.3" cy="438.3" r="2.85"/><circle cx="942.6" cy="439.1" r="2.85"/><circle cx="946.6" cy="438.3" r="2.85"/><circle cx="950.6" cy="440.7" r="2.85"/><circle cx="909.3" cy="441.5" r="2.85"/><circle cx="916.4" cy="439.5" r="2.85"/><circle cx="926.7" cy="445.5" r="2.85"/><circle cx="932.3" cy="444.7" r="2.85"/><circle cx="940.2" cy="443.9" r="2.85"/><circle cx="941.0" cy="448.3" r="2.85"/><circle cx="929.9" cy="449.4" r="2.85"/><circle cx="933.1" cy="450.2" r="2.85"/><circle cx="906.1" cy="451.8" r="2.85"/><circle cx="952.1" cy="451.8" r="2.85"/><circle cx="953.7" cy="454.2" r="2.85"/><circle cx="929.1" cy="455.8" r="2.85"/><circle cx="939.4" cy="456.6" r="2.85"/><circle cx="942.6" cy="457.4" r="2.85"/><circle cx="905.3" cy="460.2" r="2.85"/><circle cx="916.4" cy="459.4" r="2.85"/><circle cx="923.2" cy="461.3" r="2.85"/><circle cx="929.9" cy="460.6" r="2.85"/><circle cx="939.4" cy="461.3" r="2.85"/><circle cx="952.1" cy="460.6" r="2.85"/><circle cx="917.6" cy="467.5" r="2.85"/><circle cx="930.3" cy="469.1" r="2.85"/><circle cx="940.2" cy="468.7" r="2.85"/><circle cx="942.6" cy="472.7" r="2.85"/><circle cx="954.1" cy="468.3" r="2.85"/><circle cx="952.1" cy="471.9" r="2.85"/><circle cx="949.8" cy="475.1" r="2.85"/><circle cx="940.2" cy="477.5" r="2.85"/><circle cx="931.5" cy="479.8" r="2.85"/><circle cx="905.3" cy="479.0" r="2.85"/><circle cx="912.5" cy="477.1" r="2.85"/><circle cx="919.2" cy="485.4" r="2.85"/><circle cx="926.7" cy="487.0" r="2.85"/><circle cx="931.5" cy="484.6" r="2.85"/><circle cx="939.4" cy="483.0" r="2.85"/><circle cx="941.0" cy="487.0" r="2.85"/><circle cx="928.3" cy="490.2" r="2.85"/><circle cx="916.4" cy="495.3" r="2.85"/><circle cx="923.6" cy="494.1" r="2.85"/><circle cx="928.3" cy="493.3" r="2.85"/><circle cx="937.9" cy="493.3" r="2.85"/><circle cx="937.5" cy="496.9" r="2.85"/><circle cx="952.5" cy="488.2" r="2.85"/><circle cx="940.2" cy="509.2" r="2.85"/><circle cx="487.9" cy="444.8" r="2.85"/><circle cx="502.5" cy="433.7" r="2.85"/><circle cx="510.1" cy="438.5" r="2.85"/><circle cx="536.7" cy="432.9" r="2.85"/><circle cx="497.8" cy="460.7" r="2.85"/><circle cx="501.7" cy="452.0" r="2.85"/><circle cx="496.2" cy="448.8" r="2.85"/><circle cx="493.8" cy="462.3" r="2.85"/><circle cx="509.7" cy="458.3" r="2.85"/><circle cx="533.5" cy="458.3" r="2.85"/><circle cx="538.3" cy="455.2" r="2.85"/><circle cx="543.8" cy="451.2" r="2.85"/><circle cx="546.2" cy="445.6" r="2.85"/><circle cx="530.3" cy="472.6" r="2.85"/><circle cx="537.5" cy="469.4" r="2.85"/><circle cx="565.6" cy="437.7" r="2.85"/><circle cx="576.7" cy="446.4" r="2.85"/><circle cx="582.3" cy="451.2" r="2.85"/><circle cx="579.9" cy="458.3" r="2.85"/><circle cx="602.1" cy="453.6" r="2.85"/><circle cx="558.5" cy="467.9" r="2.85"/><circle cx="563.3" cy="472.6" r="2.85"/><circle cx="576.0" cy="467.9" r="2.85"/><circle cx="635.9" cy="436.3" r="2.85"/><circle cx="679.5" cy="448.7" r="2.85"/><circle cx="683.5" cy="445.8" r="2.85"/><circle cx="695.4" cy="438.8" r="2.85"/><circle cx="687.5" cy="441.8" r="2.85"/><circle cx="697.4" cy="447.7" r="2.85"/><circle cx="701.3" cy="454.7" r="2.85"/><circle cx="695.4" cy="456.7" r="2.85"/><circle cx="711.3" cy="447.7" r="2.85"/><circle cx="715.2" cy="452.7" r="2.85"/><circle cx="763.6" cy="434.8" r="2.85"/><circle cx="788.4" cy="456.6" r="2.85"/><circle cx="784.4" cy="451.7" r="2.85"/><circle cx="796.3" cy="465.6" r="2.85"/><circle cx="791.4" cy="463.6" r="2.85"/><circle cx="798.3" cy="469.5" r="2.85"/><circle cx="467.1" cy="450.7" r="2.85"/><circle cx="470.7" cy="454.3" r="2.85"/><circle cx="464.8" cy="447.1" r="2.85"/><circle cx="419.5" cy="462.6" r="2.85"/></g><g fill="#d62728" stroke="#b82022" stroke-width="0.9"><circle cx="161.2" cy="479.3" r="2.85"/><circle cx="170.4" cy="476.3" r="2.85"/><circle cx="176.4" cy="468.4" r="2.85"/><circle cx="178.6" cy="476.3" r="2.85"/><circle cx="186.6" cy="478.4" r="2.85"/><circle cx="189.5" cy="465.1" r="2.85"/><circle cx="186.6" cy="496.4" r="2.85"/><circle cx="201.5" cy="469.2" r="2.85"/><circle cx="201.5" cy="481.5" r="2.85"/><circle cx="210.6" cy="468.2" r="2.85"/><circle cx="211.7" cy="472.2" r="2.85"/><circle cx="215.5" cy="466.0" r="2.85"/><circle cx="223.1" cy="466.7" r="2.85"/><circle cx="221.5" cy="470.6" r="2.85"/><circle cx="228.3" cy="472.2" r="2.85"/><circle cx="233.5" cy="468.2" r="2.85"/><circle cx="215.5" cy="479.1" r="2.85"/><circle cx="219.3" cy="480.4" r="2.85"/><circle cx="216.3" cy="495.4" r="2.85"/><circle cx="212.4" cy="503.3" r="2.85"/><circle cx="241.4" cy="482.3" r="2.85"/><circle cx="249.5" cy="467.3" r="2.85"/><circle cx="251.3" cy="470.6" r="2.85"/><circle cx="250.4" cy="477.6" r="2.85"/><circle cx="249.5" cy="482.0" r="2.85"/><circle cx="251.3" cy="487.5" r="2.85"/><circle cx="253.1" cy="460.2" r="2.85"/><circle cx="260.5" cy="461.2" r="2.85"/><circle cx="263.6" cy="470.4" r="2.85"/><circle cx="275.5" cy="470.4" r="2.85"/><circle cx="272.3" cy="479.3" r="2.85"/><circle cx="272.3" cy="497.2" r="2.85"/><circle cx="284.1" cy="473.8" r="2.85"/><circle cx="286.9" cy="476.1" r="2.85"/><circle cx="292.6" cy="467.5" r="2.85"/><circle cx="295.2" cy="470.4" r="2.85"/><circle cx="323.2" cy="464.4" r="2.85"/><circle cx="321.2" cy="467.5" r="2.85"/><circle cx="321.7" cy="474.4" r="2.85"/><circle cx="316.6" cy="476.1" r="2.85"/><circle cx="317.5" cy="480.6" r="2.85"/><circle cx="333.5" cy="467.3" r="2.85"/><circle cx="352.5" cy="469.2" r="2.85"/><circle cx="344.6" cy="480.3" r="2.85"/><circle cx="330.5" cy="485.2" r="2.85"/><circle cx="327.4" cy="493.2" r="2.85"/><circle cx="308.6" cy="492.4" r="2.85"/></g><rect x="121" y="46" width="872" height="866" fill="none" stroke="#000" stroke-width="1.67" stroke-linejoin="miter"/><g stroke="#000" stroke-width="1.67"><line x1="160.90" y1="912" x2="160.90" y2="904.7"/><line x1="271.90" y1="912" x2="271.90" y2="904.7"/><line x1="382.90" y1="912" x2="382.90" y2="904.7"/><line x1="493.90" y1="912" x2="493.90" y2="904.7"/><line x1="604.90" y1="912" x2="604.90" y2="904.7"/><line x1="715.90" y1="912" x2="715.90" y2="904.7"/><line x1="826.90" y1="912" x2="826.90" y2="904.7"/><line x1="937.90" y1="912" x2="937.90" y2="904.7"/><line x1="121" y1="911.99" x2="128.3" y2="911.99"/><line x1="121" y1="767.66" x2="128.3" y2="767.66"/><line x1="121" y1="623.33" x2="128.3" y2="623.33"/><line x1="121" y1="479.00" x2="128.3" y2="479.00"/><line x1="121" y1="334.67" x2="128.3" y2="334.67"/><line x1="121" y1="190.34" x2="128.3" y2="190.34"/><line x1="121" y1="46.01" x2="128.3" y2="46.01"/></g><text x="160.90" y="934.6" font-size="22.0" text-anchor="middle" textLength="13.25" lengthAdjust="spacingAndGlyphs">0</text><text x="271.90" y="934.6" font-size="22.0" text-anchor="middle" textLength="13.25" lengthAdjust="spacingAndGlyphs">2</text><text x="382.90" y="934.6" font-size="22.0" text-anchor="middle" textLength="13.25" lengthAdjust="spacingAndGlyphs">4</text><text x="493.90" y="934.6" font-size="22.0" text-anchor="middle" textLength="13.25" lengthAdjust="spacingAndGlyphs">6</text><text x="604.90" y="934.6" font-size="22.0" text-anchor="middle" textLength="13.25" lengthAdjust="spacingAndGlyphs">8</text><text x="715.90" y="934.6" font-size="22.0" text-anchor="middle" textLength="26.5" lengthAdjust="spacingAndGlyphs">10</text><text x="826.90" y="934.6" font-size="22.0" text-anchor="middle" textLength="26.5" lengthAdjust="spacingAndGlyphs">12</text><text x="937.90" y="934.6" font-size="22.0" text-anchor="middle" textLength="26.5" lengthAdjust="spacingAndGlyphs">14</text><text x="113.2" y="53.61" font-size="22.0" text-anchor="end" textLength="45.6" lengthAdjust="spacingAndGlyphs">0.03</text><text x="113.2" y="197.94" font-size="22.0" text-anchor="end" textLength="45.6" lengthAdjust="spacingAndGlyphs">0.02</text><text x="113.2" y="342.27" font-size="22.0" text-anchor="end" textLength="45.6" lengthAdjust="spacingAndGlyphs">0.01</text><text x="113.2" y="486.60" font-size="22.0" text-anchor="end" textLength="45.6" lengthAdjust="spacingAndGlyphs">0.00</text><text x="113.2" y="630.93" font-size="22.0" text-anchor="end" textLength="63.2" lengthAdjust="spacingAndGlyphs">−0.01</text><text x="113.2" y="775.26" font-size="22.0" text-anchor="end" textLength="63.2" lengthAdjust="spacingAndGlyphs">−0.02</text><text x="113.2" y="919.59" font-size="22.0" text-anchor="end" textLength="63.2" lengthAdjust="spacingAndGlyphs">−0.03</text><text x="557" y="33.0" font-size="26.5" text-anchor="middle" textLength="424.25" lengthAdjust="spacingAndGlyphs">Spectroscoptic redshift x distance</text><text x="557" y="964" font-size="22.0" text-anchor="middle" textLength="79.9" lengthAdjust="spacingAndGlyphs">R [Mpc]</text><g transform="translate(30.3,479.5) rotate(-90)"><text x="0" y="0" font-size="23.5" text-anchor="middle">Δ<tspan font-style="italic" font-size="22">z</tspan><tspan font-size="15.5" font-style="italic" dy="3.6">spec</tspan></text></g><rect x="795" y="56.5" width="188" height="66.5" rx="4" ry="4" fill="#fff" fill-opacity="0.8" stroke="#cccccc" stroke-width="1.67"/><circle cx="824.3" cy="75.2" r="3.3" fill="#d62728"/><circle cx="824.3" cy="106" r="3.3" fill="#1f77b4"/><text x="861" y="81.5" font-size="22.0" textLength="96.6" lengthAdjust="spacingAndGlyphs">Members</text><text x="861" y="112.1" font-size="22.0" textLength="113" lengthAdjust="spacingAndGlyphs">Interlopers</text></svg></body></html>
